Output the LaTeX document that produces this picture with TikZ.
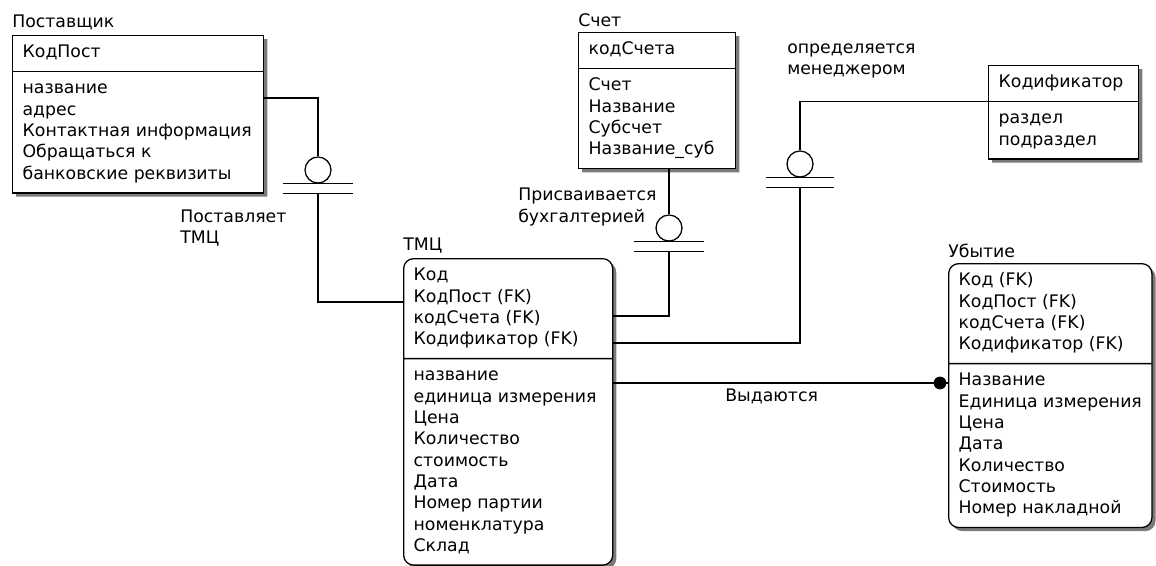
\documentclass[tikz,border=0pt]{standalone}
\usepackage{fontspec}
\setmainfont{DejaVu Sans}
\usetikzlibrary{shapes.multipart,shadows,positioning}
\definecolor{shade}{HTML}{7A7A7A}
\newcommand{\erfont}{\fontsize{12.3}{15.15}\selectfont}
\newcommand{\attrs}[1]{\begin{tabular}{@{}l@{}}#1\end{tabular}}
\tikzset{
  entity/.style={rectangle split, rectangle split parts=2, rectangle split part align={left},
    draw, line width=0.9pt, fill=white, minimum width=#1, inner xsep=0.25cm, inner ysep=4.8pt,
    font=\erfont, anchor=north west,
    drop shadow={shadow xshift=0.09cm, shadow yshift=-0.09cm, fill=shade, opacity=1}},
  weakentity/.style={entity=#1, rounded corners=0.25cm},
  title/.style={font=\erfont, inner sep=0pt},
  rellabel/.style={font=\erfont, align=left, anchor=west, inner sep=0pt},
  link/.style={line width=0.9pt},
  zero/.style={circle, draw, line width=0.9pt, fill=white, minimum size=0.65cm, inner sep=0pt},
  dot/.style={circle, fill=black, minimum size=0.32cm, inner sep=0pt}
}
\begin{document}
\begin{tikzpicture}[x=0.025cm, y=-0.025cm]
  \useasboundingbox (0,0) rectangle (1156,565);
  % entities
  \node[entity=6.275cm] (post) at (12,35) {\attrs{КодПост}\nodepart{two}\attrs{название\\адрес\\Контактная информация\\Обращаться к\\банковские реквизиты}};
  \node[entity=3.925cm] (schet) at (578,32) {\attrs{кодСчета}\nodepart{two}\attrs{Счет\\Название\\Субсчет\\Название\_суб}};
  \node[entity=3.75cm] (kod) at (988,65) {\attrs{Кодификатор}\nodepart{two}\attrs{раздел\\подраздел}};
  \node[weakentity=5.225cm] (tmc) at (403,258) {\attrs{Код\\КодПост (FK)\\кодСчета (FK)\\Кодификатор (FK)}\nodepart{two}\attrs{название\\единица измерения\\Цена\\Количество\\стоимость\\Дата\\Номер партии\\номенклатура\\Склад}};
  \node[weakentity=5.05cm] (ubyt) at (948,263) {\attrs{Код (FK)\\КодПост (FK)\\кодСчета (FK)\\Кодификатор (FK)}\nodepart{two}\attrs{Название\\Единица измерения\\Цена\\Дата\\Количество\\Стоимость\\Номер накладной}};
  % entity names
  \node[title, above right=3.5pt and 0pt of post.north west] (postT) {Поставщик};
  \node[title, above right=3.5pt and 0pt of schet.north west] (schetT) {Счет};
  \node[title, above right=3.5pt and 0pt of tmc.north west] (tmcT) {ТМЦ};
  \node[title, above right=3.5pt and 0pt of ubyt.north west] (ubytT) {Убытие};
  % Поставщик -- ТМЦ
  \node[zero] (o1) at (318,170) {};
  \draw[link] (post.east |- 0,98) -| (o1.north);
  \draw[link] (o1.south) ++(-35,0) -- ++(70,0);
  \draw[link] (o1.south) ++(-35,10) -- ++(70,0);
  \draw[link] (o1.south) ++(0,10) |- (tmc.west |- 0,302);
  \node[rellabel] (l1) at (180,228) {Поставляет\\ТМЦ};
  % Счет -- ТМЦ
  \node[zero] (o2) at (669,228) {};
  \draw[link] (o2.north) -- (o2.north |- schet.south);
  \draw[link] (o2.south) ++(-35,0) -- ++(70,0);
  \draw[link] (o2.south) ++(-35,10) -- ++(70,0);
  \draw[link] (o2.south) ++(0,10) |- (tmc.east |- 0,316);
  \node[rellabel] (l2) at (518,207) {Присваивается\\бухгалтерией};
  % Кодификатор -- ТМЦ
  \node[zero] (o3) at (800,164) {};
  \draw[link] (kod.text split west) -| (o3.north);
  \draw[link] (o3.south) ++(-34,0) -- ++(68,0);
  \draw[link] (o3.south) ++(-34,10) -- ++(68,0);
  \draw[link] (o3.south) ++(0,10) |- (tmc.east |- 0,343);
  \node[rellabel] (l3) at (787,61) {определяется\\менеджером};
  % ТМЦ -- Убытие
  \node[dot] (d1) at (940,383) {};
  \draw[link] (tmc.east |- d1) -- (ubyt.west |- d1);
  \node[rellabel] (l4) at (725,396) {Выдаются};
\end{tikzpicture}
\end{document}
